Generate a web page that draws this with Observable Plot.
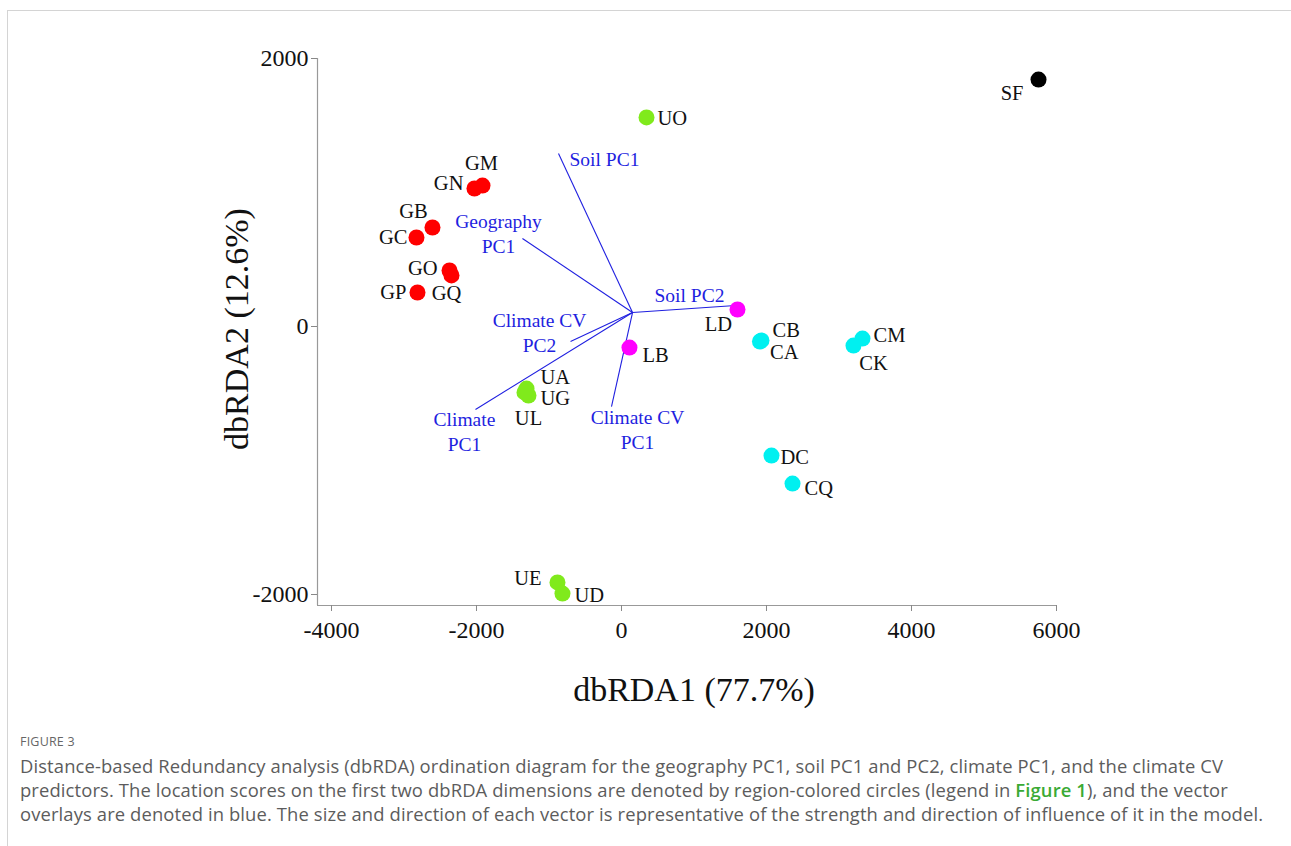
<!DOCTYPE html>
<html>
<head>
<meta charset="utf-8">
<script src="https://cdn.jsdelivr.net/npm/d3@7"></script>
<script src="https://cdn.jsdelivr.net/npm/@observablehq/plot@0.6"></script>
<style>
  html, body { margin: 0; padding: 0; background: #fff; overflow: hidden; }
  #wrap { position: relative; width: 1291px; height: 846px; }
  #frame { position: absolute; left: 7px; top: 10px; right: 0; bottom: 0; border-top: 1px solid #d4d4d4; border-left: 1px solid #d4d4d4; }
  #chart { position: absolute; left: 0; top: 0; }
  #figlabel { position: absolute; left: 20px; top: 733px; font-family: "Open Sans", sans-serif; font-size: 12.5px; color: #666; letter-spacing: 0.2px; }
  .capline { position: absolute; left: 20px; font-family: "Open Sans", sans-serif; font-size: 18.4px; letter-spacing: 0.12px; line-height: 24px; color: #5c5c5c; white-space: nowrap; }
  .capline b { color: #3aaa35; font-weight: 600; }
</style>
</head>
<body>
<div id="wrap">
  <div id="frame"></div>
  <div id="chart"></div>
  <div id="figlabel">FIGURE 3</div>
  <div class="capline" style="top:754px">Distance-based Redundancy analysis (dbRDA) ordination diagram for the geography PC1, soil PC1 and PC2, climate PC1, and the climate CV</div>
  <div class="capline" style="top:778px">predictors. The location scores on the first two dbRDA dimensions are denoted by region-colored circles (legend in <b>Figure 1</b>), and the vector</div>
  <div class="capline" style="top:802px">overlays are denoted in blue. The size and direction of each vector is representative of the strength and direction of influence of it in the model.</div>
</div>
<script>
// ---- data ----
const sites   = ["SF","UO","GM","GN","GB","GC","GO","GQ","GP","LD","LB","CB","CA","CM","CK","DC","CQ","UA","UG","UL","UE","UD"];
const regions = ["S","U","G","G","G","G","G","G","G","L","L","C","C","C","C","C","C","U","U","U","U","U"];
const dbRDA1  = [5752, 345, -1917, -2028, -2607, -2828, -2372, -2345, -2814, 1600, 110, 1931, 1910, 3324, 3200, 2069, 2359, -1310, -1283, -1338, -883, -814];
const dbRDA2  = [1843, 1560, 1052, 1030, 739, 664, 418, 381, 254, 127, -157, -104, -112, -90, -142, -963, -1172, -463, -515, -492, -1910, -1993];

const predictors = ["Soil PC1", "Geography\nPC1", "Soil PC2", "Climate CV\nPC2", "Climate\nPC1", "Climate CV\nPC1"];
const vectorEnd1 = [-869, -1366, 1572, -703, -2014, -138];
const vectorEnd2 = [1291, 657, 157, -112, -619, -597];
const vectorOrigin = [152, 104];

const xTicks = [-4000, -2000, 0, 2000, 4000, 6000];
const yTicks = [-2000, 0, 2000];
const xTitle = "dbRDA1 (77.7%)";
const yTitle = "dbRDA2 (12.6%)";

// ---- layout (label placement, not data) ----
const siteLabelPlacement = {
  SF: ["end", -15, 14], UO: ["start", 11, 1], GM: ["middle", -1, -22], GN: ["end", -11, -5],
  GB: ["middle", -19, -16], GC: ["end", -9, 0], GO: ["end", -12, -2], GQ: ["middle", -5, 18],
  GP: ["end", -11, 0], LD: ["middle", -19, 15], LB: ["start", 13, 8], CB: ["start", 11, -10],
  CA: ["start", 10, 11], CM: ["start", 11, -3], CK: ["middle", 20, 18], DC: ["start", 9, 2],
  CQ: ["start", 12, 5], UA: ["start", 14, -11], UG: ["start", 12, 3], UL: ["middle", 4, 26],
  UE: ["end", -16, -4], UD: ["start", 12, 2]
};
const vectorLabelPlacement = [["start", 11, 4], ["middle", -24, -6], ["middle", -46, -12], ["middle", -31, -10], ["middle", -11, 21], ["middle", 26, 22]];

const points = sites.map((s, i) => ({site: s, region: regions[i], x: dbRDA1[i], y: dbRDA2[i]}));
const vectors = predictors.map((p, i) => ({name: p, x: vectorEnd1[i], y: vectorEnd2[i], i}));

const serif = "'Liberation Serif', 'Times New Roman', serif";
const blue = "#1f1fe0";

const siteLabelMarks = points.map(p => {
  const [anchor, dx, dy] = siteLabelPlacement[p.site];
  return Plot.text([p], {x: "x", y: "y", text: "site", textAnchor: anchor, dx, dy, fontSize: 20.5, fill: "#111"});
});
const vectorLabelMarks = vectors.map((v, i) => {
  const [anchor, dx, dy] = vectorLabelPlacement[i];
  return Plot.text([v], {x: "x", y: "y", text: "name", textAnchor: anchor, dx, dy, fontSize: 19.5, lineHeight: 1.3, fill: blue});
});

const chart = Plot.plot({
  width: 1291,
  height: 720,
  marginLeft: 317,
  marginRight: 235,
  marginTop: 58,
  marginBottom: 115,
  x: {domain: [-4193, 6000]},
  y: {domain: [-2082, 2000]},
  color: {domain: ["S","U","G","L","C"], range: ["#000000", "#80ea1c", "#ff0000", "#ff00ff", "#00f0f0"]},
  style: {background: "transparent", fontFamily: serif, overflow: "visible"},
  marks: [
    Plot.ruleX([-4193], {y1: -2082, y2: 2000, stroke: "#999", strokeWidth: 1.2}),
    Plot.ruleY([-2082], {x1: -4193, x2: 6000, stroke: "#999", strokeWidth: 1.2}),
    Plot.axisX({ticks: xTicks, tickFormat: d => String(d), tickSize: 6, tickPadding: 9, fontSize: 24, stroke: "#888", fill: "#111", label: null}),
    Plot.axisY({ticks: yTicks, tickFormat: d => String(d), tickSize: 6, tickPadding: 3, fontSize: 24, stroke: "#888", fill: "#111", label: null}),
    Plot.text([xTitle], {frameAnchor: "bottom", textAnchor: "middle", lineAnchor: "middle", dx: 7, dy: 85, fontSize: 34, fill: "#111"}),
    Plot.text([yTitle], {frameAnchor: "left", textAnchor: "middle", lineAnchor: "middle", dx: -80, dy: -3, rotate: -90, fontSize: 34, fill: "#111"}),
    Plot.link(vectors, {x1: () => vectorOrigin[0], y1: () => vectorOrigin[1], x2: "x", y2: "y", stroke: blue, strokeWidth: 1.1}),
    ...vectorLabelMarks,
    Plot.dot(points, {x: "x", y: "y", r: 8, fill: "region", stroke: null}),
    ...siteLabelMarks
  ]
});
document.getElementById("chart").appendChild(chart);
</script>
</body>
</html>
